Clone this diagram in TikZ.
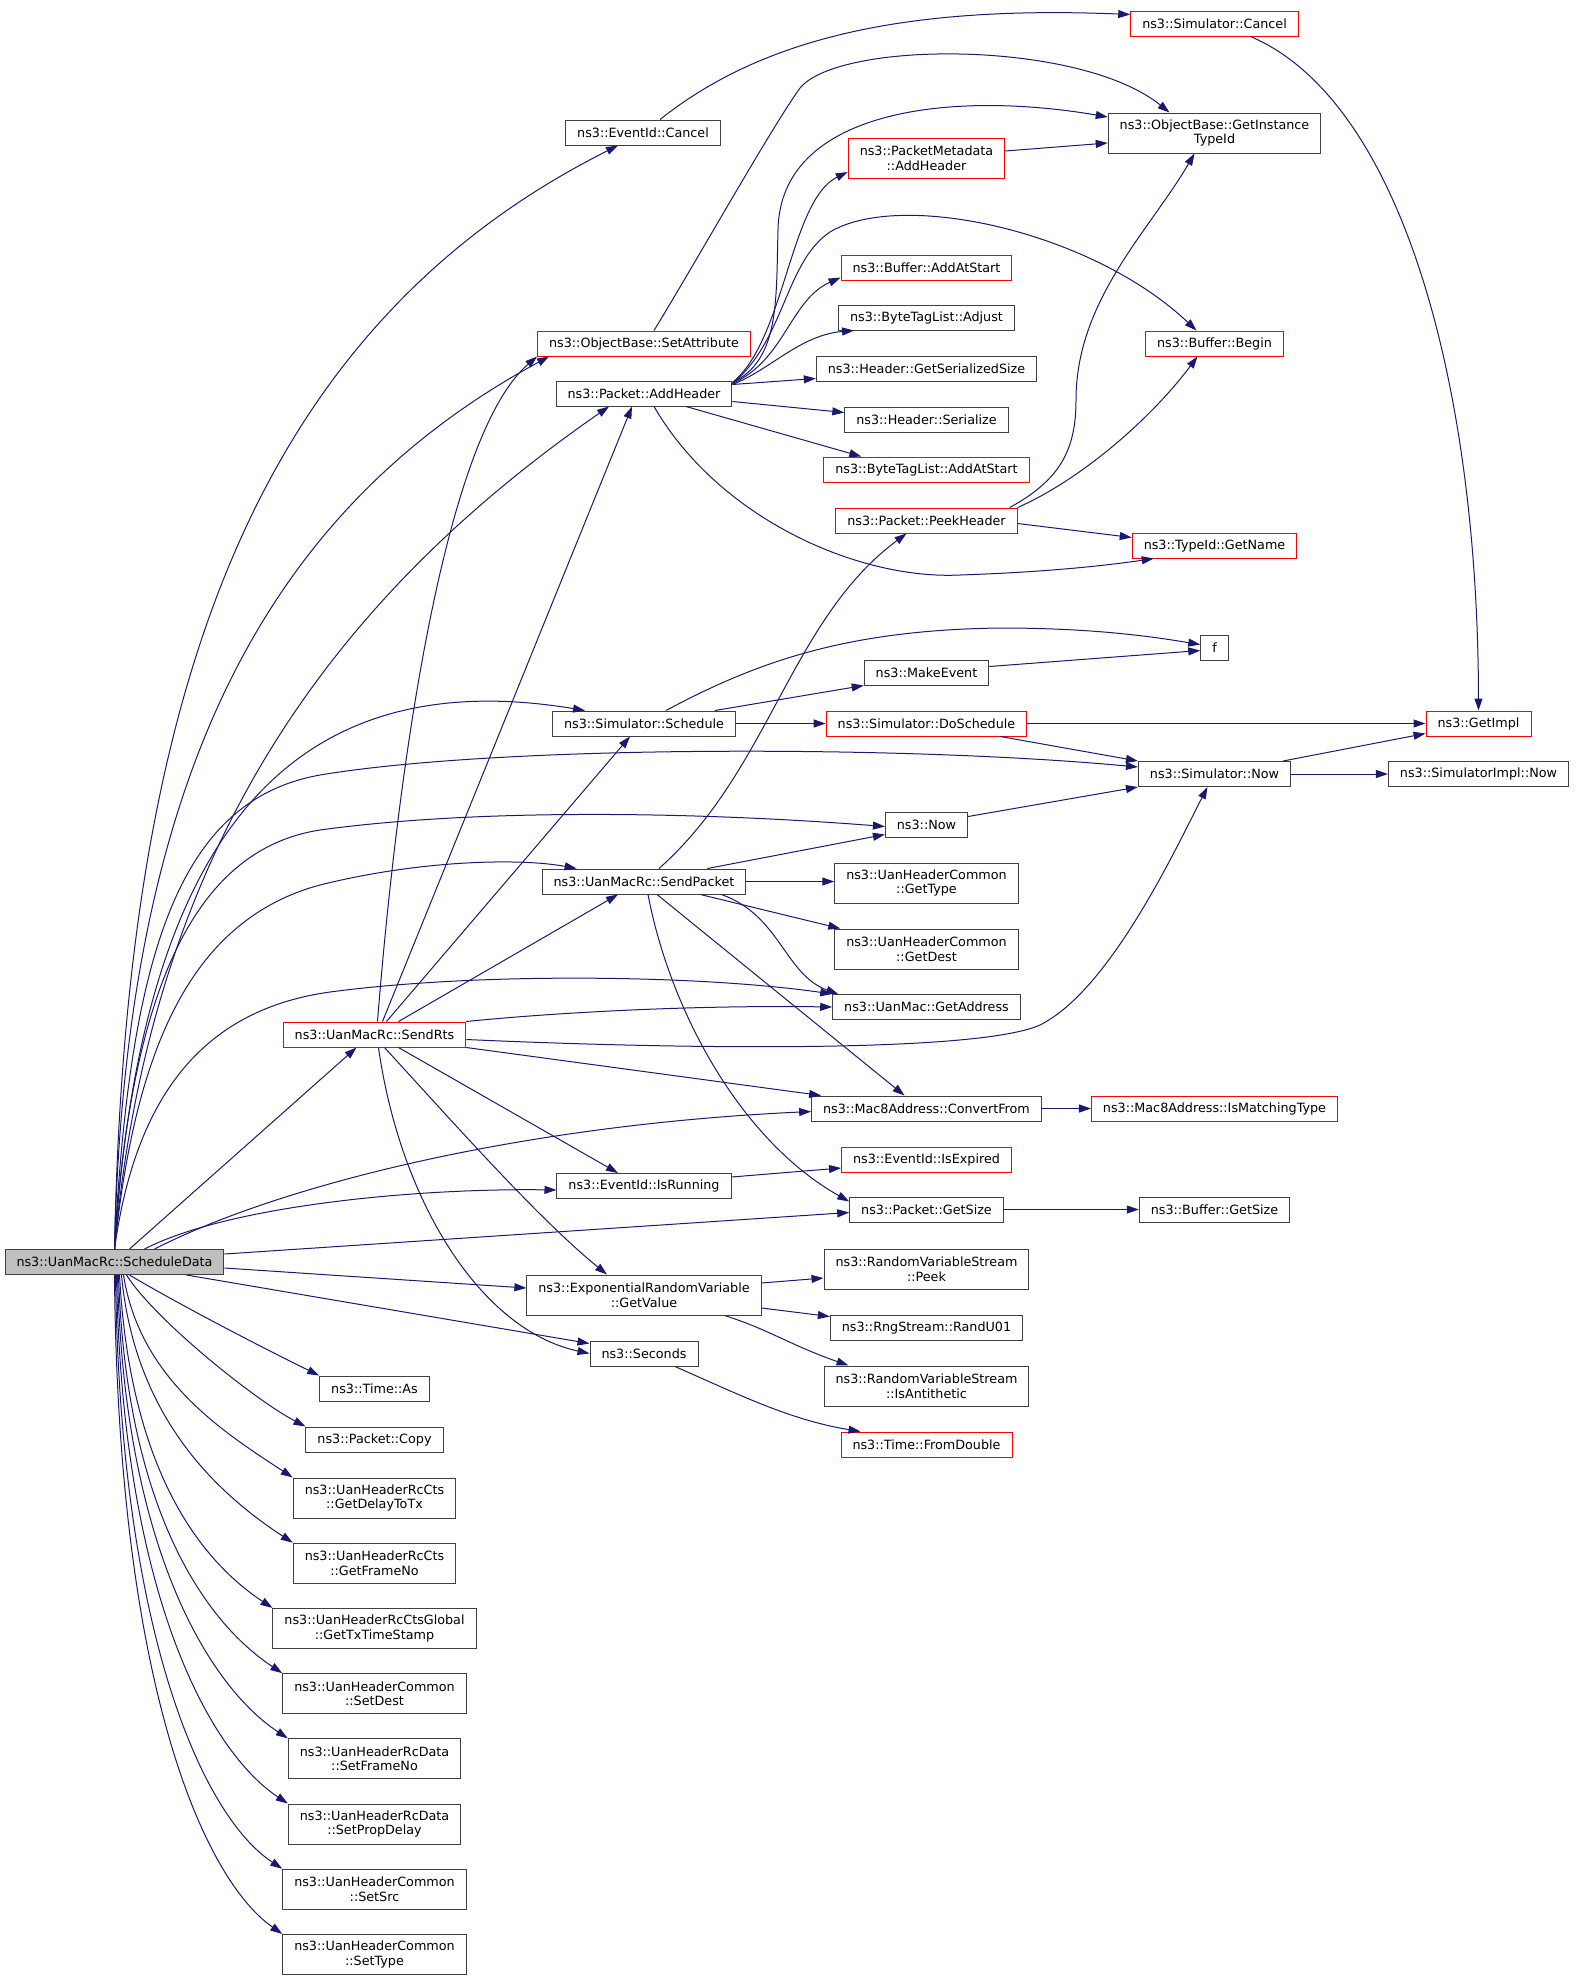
\documentclass[tikz,border=0pt]{standalone}
\usepackage{fontspec}
\setmainfont{DejaVu Sans}
\usetikzlibrary{arrows.meta}
\definecolor{edgeblue}{HTML}{191970}
\definecolor{boxgray}{HTML}{404040}
\definecolor{rootfill}{HTML}{BFBFBF}
\tikzset{
  every picture/.style={line width=1pt},
  func/.style={draw=boxgray, line width=1pt, fill=white, font=\fontsize{12.75}{14.5}\selectfont,
    inner xsep=11.5pt, inner ysep=0pt, minimum height=25pt, align=center},
  functwo/.style={func, minimum height=40pt},
  funcred/.style={func, draw=red},
  funcroot/.style={func, fill=rootfill},
  call/.style={draw=edgeblue, line width=1pt, -{Triangle[length=12pt,width=8pt]}}
}
\begin{document}
\begin{tikzpicture}[x=1pt, y=-1pt]
    \useasboundingbox (0,0) rectangle (1576,1981);
    % caller
    \node [funcroot] (sd) at (114.5,1262) {ns3::UanMacRc::ScheduleData};

    % second column
    \node [funcred] (rts) at (374.5,1034.5) {ns3::UanMacRc::SendRts};
    \node [func] (tas) at (374.5,1388.5) {ns3::Time::As};
    \node [func] (pcopy) at (374.5,1439.5) {ns3::Packet::Copy};
    \node [functwo] (ctsdelay) at (374.5,1498) {ns3::UanHeaderRcCts\\::GetDelayToTx};
    \node [functwo] (ctsframe) at (374.5,1563.2) {ns3::UanHeaderRcCts\\::GetFrameNo};
    \node [functwo] (ctsglob) at (374.5,1628.4) {ns3::UanHeaderRcCtsGlobal\\::GetTxTimeStamp};
    \node [functwo] (hdest) at (374.5,1693.6) {ns3::UanHeaderCommon\\::SetDest};
    \node [functwo] (dframe) at (374.5,1758.8) {ns3::UanHeaderRcData\\::SetFrameNo};
    \node [functwo] (dprop) at (374.5,1824) {ns3::UanHeaderRcData\\::SetPropDelay};
    \node [functwo] (hsrc) at (374.5,1889.2) {ns3::UanHeaderCommon\\::SetSrc};
    \node [functwo] (htype) at (374.5,1954.4) {ns3::UanHeaderCommon\\::SetType};

    % third column
    \node [func] (ecancel) at (643,132.5) {ns3::EventId::Cancel};
    \node [funcred] (setattr) at (644,343.5) {ns3::ObjectBase::SetAttribute};
    \node [func] (addh) at (644,393.5) {ns3::Packet::AddHeader};
    \node [func] (sched) at (644,723.5) {ns3::Simulator::Schedule};
    \node [func] (sendp) at (644,881.5) {ns3::UanMacRc::SendPacket};
    \node [func] (isrun) at (644,1186) {ns3::EventId::IsRunning};
    \node [functwo] (gv) at (644,1295) {ns3::ExponentialRandomVariable\\::GetValue};
    \node [func] (secs) at (644,1353.5) {ns3::Seconds};

    % fourth column
    \node [funcred, functwo, draw=red] (pmeta) at (926.5,158) {ns3::PacketMetadata\\::AddHeader};
    \node [funcred] (baas) at (926.5,267.5) {ns3::Buffer::AddAtStart};
    \node [func] (adj) at (926.5,317.5) {ns3::ByteTagList::Adjust};
    \node [func] (gss) at (926.5,368.5) {ns3::Header::GetSerializedSize};
    \node [func] (ser) at (926.5,419.5) {ns3::Header::Serialize};
    \node [funcred] (btl) at (926.5,469.5) {ns3::ByteTagList::AddAtStart};
    \node [funcred] (ph) at (926.5,520.5) {ns3::Packet::PeekHeader};
    \node [func] (mkev) at (926.5,672.5) {ns3::MakeEvent};
    \node [funcred] (dosch) at (926.5,723.5) {ns3::Simulator::DoSchedule};
    \node [func] (nnow) at (926.5,824.5) {ns3::Now};
    \node [functwo] (gtype) at (926.5,883) {ns3::UanHeaderCommon\\::GetType};
    \node [functwo] (gdest) at (926.5,949) {ns3::UanHeaderCommon\\::GetDest};
    \node [func] (gaddr) at (926.5,1007) {ns3::UanMac::GetAddress};
    \node [func] (conv) at (926.5,1108.5) {ns3::Mac8Address::ConvertFrom};
    \node [funcred] (isexp) at (926.5,1159.5) {ns3::EventId::IsExpired};
    \node [func] (psize) at (926.5,1209.5) {ns3::Packet::GetSize};
    \node [functwo] (peek) at (926.5,1269) {ns3::RandomVariableStream\\::Peek};
    \node [func] (rand) at (926.5,1327.5) {ns3::RngStream::RandU01};
    \node [functwo] (ianti) at (926.5,1386) {ns3::RandomVariableStream\\::IsAntithetic};
    \node [funcred] (fdbl) at (926.5,1444.5) {ns3::Time::FromDouble};

    % fifth column
    \node [funcred] (scancel) at (1214.5,23.5) {ns3::Simulator::Cancel};
    \node [functwo] (gitid) at (1214.5,133) {ns3::ObjectBase::GetInstance\\TypeId};
    \node [funcred] (bbegin) at (1214.5,343.5) {ns3::Buffer::Begin};
    \node [funcred] (gname) at (1214.5,545.5) {ns3::TypeId::GetName};
    \node [func] (ff) at (1214.5,647.5) {f};
    \node [func] (snow) at (1214.5,774) {ns3::Simulator::Now};
    \node [funcred] (ismatch) at (1214.5,1108.5) {ns3::Mac8Address::IsMatchingType};
    \node [func] (bgsize) at (1214.5,1209.5) {ns3::Buffer::GetSize};

    % last column
    \node [funcred] (gimpl) at (1478.5,723.5) {ns3::GetImpl};
    \node [func] (simpl) at (1478.5,774) {ns3::SimulatorImpl::Now};

    % calls of ScheduleData
    \draw[call] (sd.north) .. controls (125,700) and (250,330) .. ([xshift=-25]ecancel.south);
    \draw[call] (sd.north) .. controls (125,780) and (265,510) .. ([xshift=12]setattr.south west);
    \draw[call] (sd.north) .. controls (150,850) and (330,600) .. ([xshift=-35]addh.south);
    \draw[call] (sd.north) .. controls (140,850) and (280,660) .. ([xshift=33]sched.north west);
    \draw[call] (sd.north) .. controls (130,950) and (180,800) .. (320,775) .. controls (500,745) and (900,745) .. ([yshift=7]snow.west);
    \draw[call] (sd.north) .. controls (130,1000) and (190,850) .. (320,830) .. controls (480,808) and (700,812) .. ([yshift=-2]nnow.west);
    \draw[call] (sd.north) .. controls (135,1050) and (190,920) .. (320,885) .. controls (420,860) and (520,858) .. ([xshift=35]sendp.north west);
    \draw[call] (sd.north) .. controls (135,1100) and (200,1010) .. (330,992) .. controls (480,972) and (700,975) .. (gaddr.north west);
    \draw[call] ([xshift=15]sd.north) -- ([xshift=-18]rts.south);
    \draw[call] ([xshift=30]sd.north) .. controls (230,1205) and (420,1188) .. ([yshift=-4]isrun.west);
    \draw[call] ([xshift=40]sd.north) .. controls (280,1185) and (520,1125) .. ([yshift=-3]conv.west);
    \draw[call] ([yshift=8]sd.east) -- ([yshift=-3]psize.west);
    \draw[call] ([yshift=-6]sd.east) -- ([yshift=7]gv.west);
    \draw[call] ([xshift=72]sd.south) -- ([yshift=10]secs.west);
    \draw[call] ([xshift=15]sd.south) .. controls (180,1305) and (265,1349) .. (tas.north west);
    \draw[call] ([xshift=12]sd.south) .. controls (155,1320) and (255,1400) .. (pcopy.north west);
    \draw[call] ([xshift=9]sd.south) .. controls (140,1380) and (225,1433) .. (ctsdelay.north west);
    \draw[call] ([xshift=7]sd.south) .. controls (135,1420) and (220,1495) .. (ctsframe.north west);
    \draw[call] ([xshift=5]sd.south) .. controls (130,1470) and (200,1560) .. (ctsglob.north west);
    \draw[call] ([xshift=4]sd.south) .. controls (126,1510) and (205,1622) .. (hdest.north west);
    \draw[call] ([xshift=3]sd.south) .. controls (124,1550) and (210,1687) .. (dframe.north west);
    \draw[call] ([xshift=2]sd.south) .. controls (122,1595) and (210,1752) .. (dprop.north west);
    \draw[call] ([xshift=1]sd.south) .. controls (120,1640) and (205,1818) .. (hsrc.north west);
    \draw[call] (sd.south) .. controls (118,1690) and (205,1880) .. (htype.north west);

    % calls of SendRts
    \draw[call] ([xshift=3]rts.north) .. controls (395,800) and (440,440) .. (setattr.south west);
    \draw[call] ([xshift=8]rts.north) -- ([xshift=-12]addh.south);
    \draw[call] ([xshift=12]rts.north) -- ([xshift=-14]sched.south);
    \draw[call] ([xshift=24]rts.north) -- ([xshift=-26]sendp.south);
    \draw[call] (rts.north east) .. controls (560,1012) and (700,1005) .. (gaddr.west);
    \draw[call] ([yshift=-5]rts.east) .. controls (700,1050) and (980,1052) .. (1040,1025) .. controls (1110,990) and (1175,850) .. ([xshift=-7]snow.south);
    \draw[call] (rts.south east) -- ([xshift=10]conv.north west);
    \draw[call] ([xshift=24]rts.south) -- ([xshift=-26]isrun.north);
    \draw[call] ([xshift=10]rts.south) .. controls (460,1130) and (540,1220) .. ([xshift=-37]gv.north);
    \draw[call] ([xshift=4]rts.south) .. controls (400,1200) and (480,1330) .. (secs.west);

    % calls of AddHeader
    \draw[call] ([yshift=-2]addh.north east) .. controls (780,360) and (776,300) .. (778,230) .. controls (780,110) and (950,90) .. ([yshift=16]gitid.west);
    \draw[call] ([yshift=-2]addh.north east) .. controls (785,340) and (790,200) .. ([yshift=-14]pmeta.west);
    \draw[call] ([yshift=-3]addh.north east) .. controls (785,340) and (785,262) .. (830,232) .. controls (900,190) and (1090,230) .. ([xshift=-18]bbegin.north);
    \draw[call] ([yshift=-3]addh.north east) .. controls (785,360) and (790,300) .. ([yshift=-10]baas.west);
    \draw[call] ([yshift=-4]addh.north east) .. controls (770,370) and (800,335) .. ([xshift=16]adj.south west);
    \draw[call] ([yshift=-4]addh.north east) -- ([yshift=3]gss.south west);
    \draw[call] ([yshift=-8]addh.east) -- ([yshift=7]ser.west);
    \draw[call] ([xshift=42]addh.south) -- ([xshift=38]btl.north west);
    \draw[call] ([xshift=10]addh.south) .. controls (720,520) and (860,580) .. (960,575) .. controls (1050,572) and (1110,565) .. ([xshift=22]gname.south west);

    \draw[call] ([xshift=10]setattr.north) .. controls (700,255) and (770,130) .. (800,88) .. controls (840,40) and (1080,40) .. ([xshift=-45]gitid.north);
    \draw[call] ([yshift=7]pmeta.east) -- ([yshift=-10]gitid.west);
    \draw[call] ([xshift=-8]ph.north east) .. controls (1060,480) and (1076,450) .. (1076,400) .. controls (1076,300) and (1150,230) .. ([xshift=-20]gitid.south);
    \draw[call] (ph.north east) .. controls (1080,480) and (1150,420) .. ([xshift=-17]bbegin.south);
    \draw[call] ([yshift=-3]ph.east) -- ([yshift=8]gname.west);

    \draw[call] ([xshift=17]ecancel.north) .. controls (760,40) and (900,5) .. ([yshift=9]scancel.west);
    \draw[call] ([xshift=36]scancel.south) .. controls (1400,100) and (1478,380) .. (gimpl.north);

    % calls of Schedule
    \draw[call] ([xshift=22]sched.north) .. controls (760,660) and (850,630) .. (1000,628) .. controls (1100,628) and (1160,638) .. ([yshift=3]ff.west);
    \draw[call] ([xshift=-21]sched.north east) -- (mkev.south west);
    \draw[call] (sched.east) -- (dosch.west);
    \draw[call] ([yshift=6]mkev.east) -- ([yshift=-3]ff.west);
    \draw[call] (dosch.east) -- (gimpl.west);
    \draw[call] ([xshift=-27]dosch.south east) -- (snow.north west);
    \draw[call] ([xshift=-8]snow.north east) -- ([yshift=3]gimpl.south west);
    \draw[call] (snow.east) -- (simpl.west);
    \draw[call] ([yshift=8]nnow.east) -- (snow.south west);

    % calls of SendPacket
    \draw[call] ([xshift=15]sendp.north) .. controls (770,770) and (790,620) .. ([xshift=-20]ph.south);
    \draw[call] ([xshift=-39]sendp.north east) -- ([yshift=3]nnow.south west);
    \draw[call] (sendp.east) -- (sendp.east -| gtype.west);
    \draw[call] ([xshift=-46]sendp.south east) -- ([xshift=6]gdest.north west);
    \draw[call] ([xshift=-25]sendp.south east) .. controls (780,915) and (785,975) .. ([xshift=6]gaddr.north west);
    \draw[call] ([xshift=13]sendp.south) -- ([xshift=-22]conv.north);
    \draw[call] ([xshift=4]sendp.south) .. controls (670,1010) and (740,1140) .. ([yshift=-5]psize.north west);

    \draw[call] (conv.east) -- (ismatch.west);
    \draw[call] ([yshift=-4]isrun.north east) -- ([yshift=-8.5]isexp.west);
    \draw[call] (psize.east) -- (bgsize.west);
    \draw[call] ([yshift=12]gv.east) -- ([yshift=-9]peek.west);
    \draw[call] ([yshift=-13]gv.east) -- ([yshift=-2]rand.north west);
    \draw[call] ([xshift=-37]gv.south east) .. controls (770,1330) and (790,1345) .. ([xshift=25]ianti.north west);
    \draw[call] ([xshift=31]secs.south) .. controls (740,1395) and (790,1420) .. ([xshift=20]fdbl.north west);
\end{tikzpicture}
\end{document}
